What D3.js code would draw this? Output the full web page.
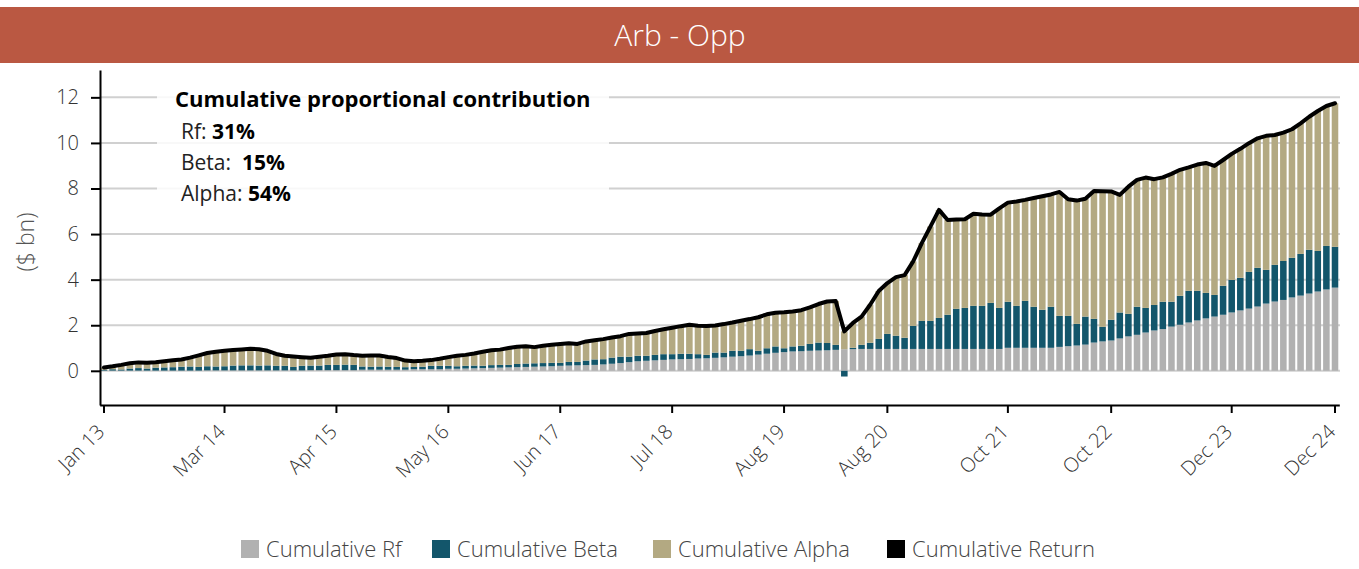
<!DOCTYPE html>
<html>
<head>
<meta charset="utf-8">
<script src="https://cdn.jsdelivr.net/npm/d3@7"></script>
<style>
body { margin: 0; background: #fff; }
svg { display: block; font-family: 'Open Sans', 'Noto Sans', sans-serif; }
</style>
</head>
<body>
<svg id="chart" width="1359" height="569"></svg>
<script>
'use strict';

// monthly categories, Jan 13 .. Dec 24
const months = d3.timeMonth.range(new Date(2013, 0, 1), new Date(2025, 0, 1)).map(d3.timeFormat('%b %y'));
const tickLabels = ['Jan 13', 'Mar 14', 'Apr 15', 'May 16', 'Jun 17', 'Jul 18', 'Aug 19', 'Aug 20', 'Oct 21', 'Oct 22', 'Dec 23', 'Dec 24'];
const yTicks = [0, 2, 4, 6, 8, 10, 12];

// cumulative values, $ bn (one row per year)
const rf = [
    0.01, 0.01, 0.01, 0.01, 0.01, 0.01, 0.01, 0.01, 0.01, 0.01, 0.01, 0.01,
    0.02, 0.02, 0.02, 0.02, 0.02, 0.02, 0.02, 0.02, 0.02, 0.02, 0.02, 0.02,
    0.03, 0.03, 0.03, 0.03, 0.03, 0.03, 0.05, 0.05, 0.05, 0.05, 0.05, 0.05,
    0.07, 0.07, 0.07, 0.07, 0.09, 0.09, 0.10, 0.11, 0.12, 0.13, 0.14, 0.15,
    0.16, 0.17, 0.18, 0.19, 0.20, 0.22, 0.23, 0.24, 0.25, 0.26, 0.28, 0.31,
    0.34, 0.38, 0.42, 0.44, 0.46, 0.48, 0.50, 0.51, 0.52, 0.54, 0.55, 0.57,
    0.59, 0.62, 0.64, 0.67, 0.71, 0.75, 0.79, 0.82, 0.85, 0.86, 0.88, 0.89,
    0.90, 0.92, 0.95, 0.95, 0.96, 0.96, 0.96, 0.96, 0.96, 0.96, 0.96, 0.96,
    0.96, 0.96, 0.96, 0.96, 0.96, 0.96, 0.96, 0.96, 0.96, 1.01, 1.01, 1.01,
    1.01, 1.01, 1.01, 1.05, 1.08, 1.11, 1.15, 1.24, 1.29, 1.33, 1.42, 1.51,
    1.58, 1.68, 1.77, 1.83, 1.94, 2.02, 2.12, 2.21, 2.30, 2.38, 2.46, 2.56,
    2.65, 2.73, 2.82, 2.95, 3.04, 3.11, 3.22, 3.30, 3.39, 3.48, 3.57, 3.65
];
const beta = [
    0.04, 0.06, 0.05, 0.09, 0.11, 0.09, 0.13, 0.14, 0.15, 0.17, 0.18, 0.16,
    0.18, 0.17, 0.18, 0.21, 0.22, 0.22, 0.21, 0.22, 0.20, 0.20, 0.15, 0.20,
    0.20, 0.20, 0.23, 0.23, 0.24, 0.23, 0.14, 0.13, 0.14, 0.13, 0.12, 0.11,
    0.10, 0.11, 0.15, 0.15, 0.13, 0.11, 0.12, 0.12, 0.10, 0.12, 0.12, 0.11,
    0.14, 0.15, 0.15, 0.15, 0.15, 0.13, 0.16, 0.15, 0.20, 0.24, 0.23, 0.27,
    0.28, 0.24, 0.24, 0.22, 0.24, 0.25, 0.23, 0.24, 0.23, 0.19, 0.15, 0.23,
    0.21, 0.26, 0.24, 0.28, 0.17, 0.24, 0.28, 0.17, 0.22, 0.24, 0.30, 0.35,
    0.32, 0.22, -0.25, 0.06, 0.18, 0.27, 0.44, 0.66, 0.58, 0.49, 1.01, 1.23,
    1.23, 1.36, 1.50, 1.76, 1.80, 1.89, 1.89, 2.02, 1.80, 2.02, 1.84, 2.06,
    1.80, 1.67, 1.80, 1.36, 1.33, 0.95, 1.23, 1.04, 0.64, 0.91, 1.14, 0.99,
    1.23, 1.08, 1.12, 1.20, 1.09, 1.27, 1.39, 1.30, 1.12, 0.95, 1.27, 1.43,
    1.43, 1.61, 1.70, 1.48, 1.61, 1.71, 1.74, 1.83, 1.92, 1.78, 1.91, 1.79
];
const alpha = [
    0.10, 0.13, 0.20, 0.23, 0.25, 0.25, 0.24, 0.27, 0.30, 0.32, 0.39, 0.51,
    0.58, 0.65, 0.68, 0.68, 0.70, 0.73, 0.72, 0.64, 0.52, 0.44, 0.46, 0.38,
    0.34, 0.39, 0.40, 0.46, 0.46, 0.43, 0.47, 0.49, 0.48, 0.43, 0.39, 0.29,
    0.25, 0.26, 0.25, 0.31, 0.38, 0.46, 0.48, 0.53, 0.62, 0.65, 0.67, 0.74,
    0.76, 0.76, 0.71, 0.76, 0.79, 0.83, 0.82, 0.79, 0.84, 0.84, 0.88, 0.88,
    0.90, 1.00, 0.98, 1.00, 1.05, 1.09, 1.16, 1.21, 1.27, 1.25, 1.27, 1.19,
    1.25, 1.24, 1.32, 1.32, 1.47, 1.49, 1.48, 1.58, 1.53, 1.56, 1.60, 1.69,
    1.82, 1.92, 0.78, 1.09, 1.24, 1.67, 2.10, 2.23, 2.57, 2.75, 2.83, 3.41,
    4.14, 4.74, 4.16, 3.92, 3.89, 4.04, 4.01, 3.87, 4.37, 4.35, 4.58, 4.43,
    4.77, 4.98, 4.93, 5.44, 5.12, 5.41, 5.17, 5.61, 5.95, 5.63, 5.16, 5.58,
    5.57, 5.72, 5.52, 5.46, 5.61, 5.53, 5.42, 5.54, 5.70, 5.66, 5.52, 5.53,
    5.66, 5.65, 5.68, 5.88, 5.70, 5.63, 5.64, 5.73, 5.84, 6.14, 6.14, 6.30
];
const cumReturn = [
    0.15, 0.20, 0.26, 0.33, 0.37, 0.35, 0.38, 0.42, 0.46, 0.50, 0.58, 0.68,
    0.78, 0.84, 0.88, 0.91, 0.94, 0.97, 0.95, 0.88, 0.74, 0.66, 0.63, 0.60,
    0.57, 0.62, 0.66, 0.72, 0.73, 0.69, 0.66, 0.67, 0.67, 0.61, 0.56, 0.45,
    0.42, 0.44, 0.47, 0.53, 0.60, 0.66, 0.70, 0.76, 0.84, 0.90, 0.93, 1.00,
    1.06, 1.08, 1.04, 1.10, 1.14, 1.18, 1.21, 1.18, 1.29, 1.34, 1.39, 1.46,
    1.52, 1.62, 1.64, 1.66, 1.75, 1.82, 1.89, 1.96, 2.02, 1.98, 1.97, 1.99,
    2.05, 2.12, 2.20, 2.27, 2.35, 2.48, 2.55, 2.57, 2.60, 2.66, 2.78, 2.93,
    3.04, 3.06, 1.73, 2.10, 2.38, 2.90, 3.50, 3.85, 4.11, 4.20, 4.80, 5.60,
    6.33, 7.06, 6.62, 6.64, 6.65, 6.89, 6.86, 6.85, 7.13, 7.38, 7.43, 7.50,
    7.58, 7.66, 7.74, 7.85, 7.53, 7.47, 7.55, 7.89, 7.88, 7.87, 7.72, 8.08,
    8.38, 8.48, 8.41, 8.49, 8.64, 8.82, 8.93, 9.05, 9.12, 8.99, 9.25, 9.52,
    9.74, 9.99, 10.20, 10.31, 10.35, 10.45, 10.60, 10.86, 11.15, 11.40, 11.62, 11.74
];

// proportional contribution box
const contribLabels = ['Rf:', 'Beta: ', 'Alpha:'];
const contribValues = ['31%', '15%', '54%'];

const seriesNames = ['Cumulative Rf', 'Cumulative Beta', 'Cumulative Alpha', 'Cumulative Return'];
const colors = ['#b1b1b1', '#13566b', '#b3a982', '#000000'];

const svg = d3.select('#chart');

// header band
svg.append('rect')
    .attr('x', 0).attr('y', 7)
    .attr('width', 1359).attr('height', 56)
    .attr('fill', '#ba5842');
svg.append('text')
    .attr('x', 680).attr('y', 46)
    .attr('text-anchor', 'middle')
    .attr('font-size', 30)
    .attr('font-weight', 300)
    .attr('fill', '#fff')
    .text('Arb - Opp');

// scales
const x = d3.scaleBand()
    .domain(months)
    .range([99.7, 1339.3])
    .paddingInner(0.24)
    .paddingOuter(0.12);

const y = d3.scaleLinear()
    .domain([-1.5, 13.2])
    .range([405, 70]);

// gridlines
svg.append('g')
    .selectAll('line')
    .data(yTicks).enter().append('line')
    .attr('x1', 100).attr('x2', 1340)
    .attr('y1', (d) => y(d)).attr('y2', (d) => y(d))
    .attr('stroke', '#d0d0d0')
    .attr('stroke-width', 2);

// stacked bars
const table = months.map((m, i) => ({ month: m, rf: rf[i], beta: beta[i], alpha: alpha[i] }));
const stack = d3.stack()
    .keys(['rf', 'beta', 'alpha'])
    .offset(d3.stackOffsetDiverging)(table);

svg.append('g')
    .selectAll('g')
    .data(stack).enter().append('g')
    .attr('fill', (d, i) => colors[i])
    .selectAll('rect')
    .data((d) => d).enter().append('rect')
    .attr('x', (d) => x(d.data.month))
    .attr('width', x.bandwidth())
    .attr('y', (d) => y(Math.max(d[0], d[1])))
    .attr('height', (d) => Math.abs(y(d[0]) - y(d[1])));

// cumulative return line
const line = d3.line()
    .x((d, i) => x(months[i]) + x.bandwidth() / 2)
    .y((d) => y(d));

svg.append('path')
    .datum(cumReturn)
    .attr('d', line)
    .attr('fill', 'none')
    .attr('stroke', colors[3])
    .attr('stroke-width', 4)
    .attr('stroke-linejoin', 'round')
    .attr('stroke-linecap', 'round');

// axes
const yAxis = svg.append('g')
    .attr('transform', 'translate(100,0)')
    .call(d3.axisLeft(y).tickValues(yTicks).tickSize(9).tickSizeOuter(0).tickPadding(12));

const xAxis = svg.append('g')
    .attr('transform', 'translate(0,405)')
    .call(d3.axisBottom(x).tickValues(tickLabels).tickSize(8).tickSizeOuter(0));

[yAxis, xAxis].forEach(function (ax) {
    ax.attr('font-family', null).attr('font-size', null);
    ax.select('.domain').attr('stroke', '#000').attr('stroke-width', 2);
    ax.selectAll('.tick line').attr('stroke', '#000').attr('stroke-width', 2);
    ax.selectAll('text').attr('font-size', 20).attr('font-weight', 300).attr('fill', '#333');
});

xAxis.selectAll('.tick text')
    .attr('text-anchor', 'end')
    .attr('y', 0)
    .attr('dy', '0.35em')
    .attr('transform', 'translate(-3,23) rotate(-45)');

// y axis title
svg.append('text')
    .attr('transform', 'translate(34,242) rotate(-90)')
    .attr('text-anchor', 'middle')
    .attr('font-size', 23)
    .attr('font-weight', 300)
    .attr('fill', '#555')
    .text('($ bn)');

// annotation box
const note = svg.append('g');
note.append('rect')
    .attr('x', 157).attr('y', 80)
    .attr('width', 452).attr('height', 134)
    .attr('fill', '#fff')
    .attr('fill-opacity', 0.85);
note.append('text')
    .attr('x', 175).attr('y', 107)
    .attr('font-size', 22)
    .attr('font-weight', 'bold')
    .attr('fill', '#000')
    .text('Cumulative proportional contribution');

const rows = note.selectAll('text.row')
    .data(contribLabels).enter().append('text')
    .attr('class', 'row')
    .attr('x', 181)
    .attr('y', (d, i) => 139 + i * 31)
    .attr('font-size', 21)
    .attr('fill', '#222')
    .attr('xml:space', 'preserve');
rows.append('tspan').text((d) => d + ' ');
rows.append('tspan')
    .attr('font-weight', 'bold')
    .attr('fill', '#000')
    .text((d, i) => contribValues[i]);

// legend
const legendX = [241, 432, 653, 887];
const legend = svg.append('g')
    .selectAll('g')
    .data(seriesNames).enter().append('g')
    .attr('transform', (d, i) => 'translate(' + legendX[i] + ',540)');
legend.append('rect')
    .attr('width', 18).attr('height', 18)
    .attr('fill', (d, i) => colors[i]);
legend.append('text')
    .attr('x', 25).attr('y', 9)
    .attr('dy', '0.35em')
    .attr('font-size', 22)
    .attr('font-weight', 300)
    .attr('fill', '#444')
    .text((d) => d);
</script>
</body>
</html>
